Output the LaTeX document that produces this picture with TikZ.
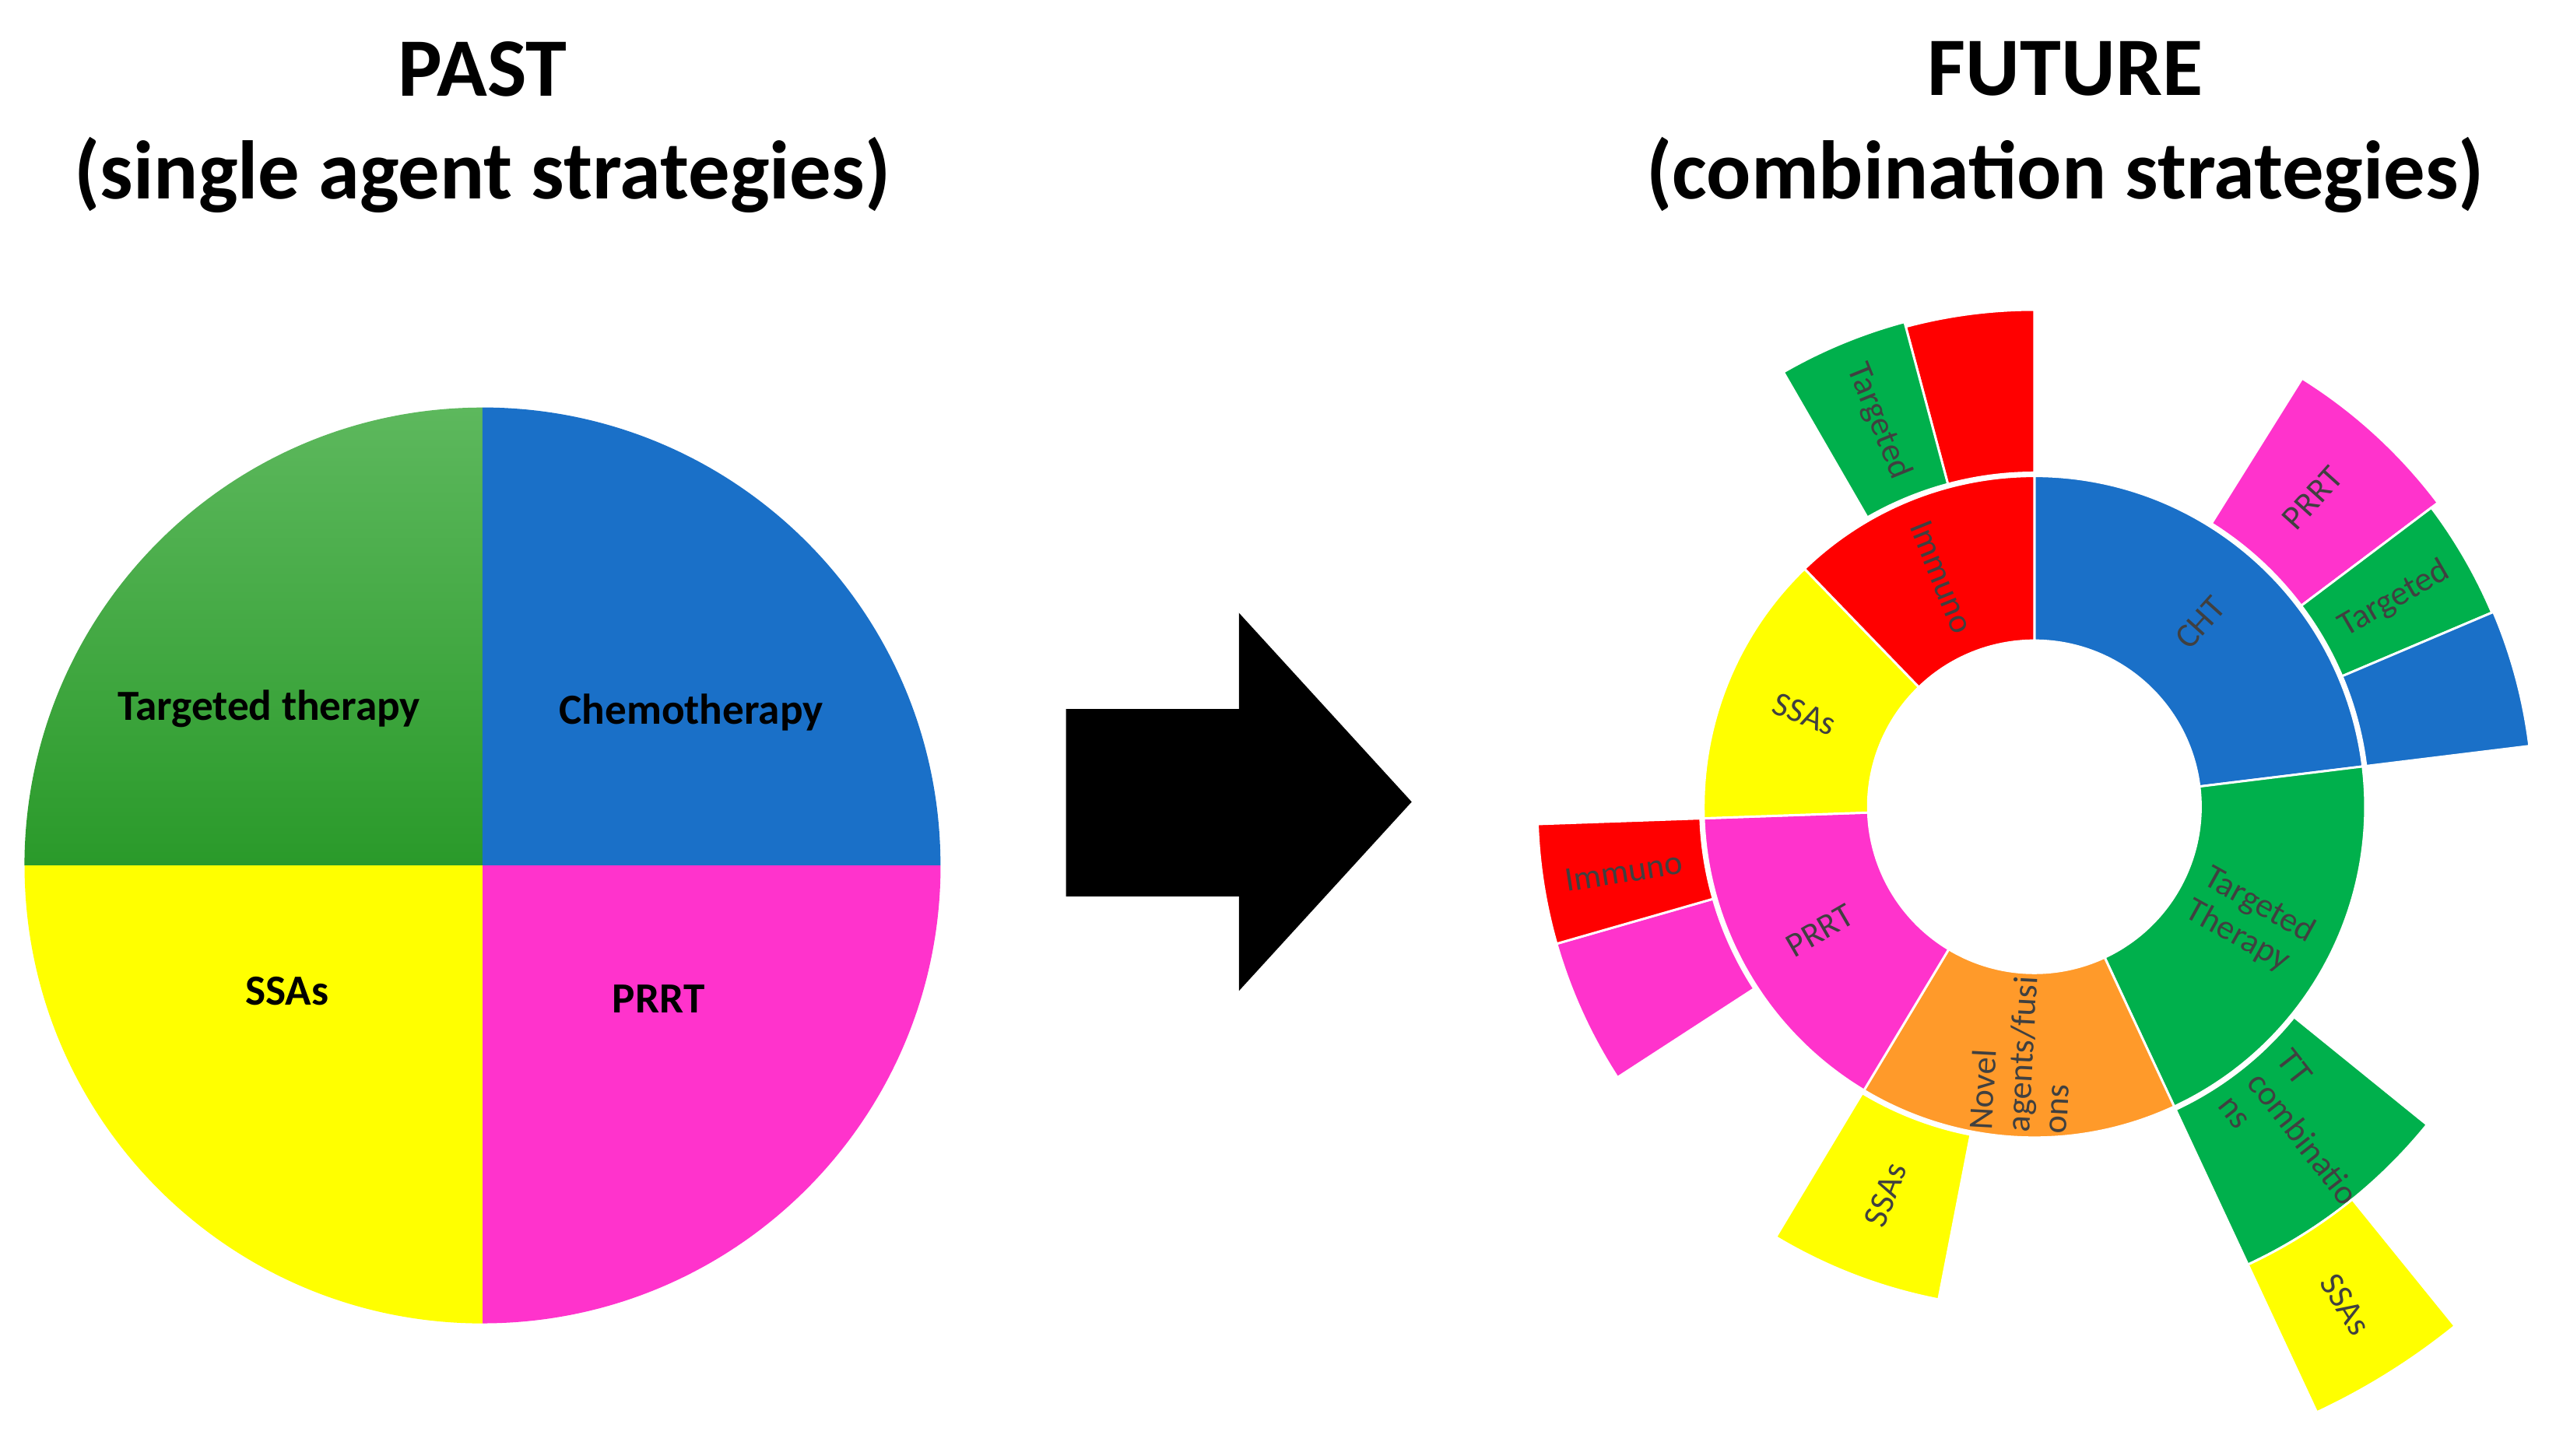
\documentclass[tikz,border=0pt]{standalone}
\usepackage{fontspec}
\setmainfont{Carlito}
\usetikzlibrary{calc}
\definecolor{cblue}{HTML}{1A70C8}
\definecolor{cpink}{HTML}{FF33CC}
\definecolor{cyel}{HTML}{FFFF00}
\definecolor{cgreen}{HTML}{00B04C}
\definecolor{cred}{HTML}{FF0000}
\definecolor{corange}{HTML}{FF9A2A}
\definecolor{ctext}{HTML}{404040}
\definecolor{pgtop}{HTML}{5DB85D}
\definecolor{pgbot}{HTML}{2A9A2A}
\newcommand\mysect[5]{\fill[#5,draw=white,line width=0.8pt] (#1:#3) arc[start angle=#1,end angle=#2,radius=#3] -- (#2:#4) arc[start angle=#2,end angle=#1,radius=#4] -- cycle;}
\begin{document}
\begin{tikzpicture}[x=0.02cm,y=0.02cm,
  title/.style={font=\bfseries\fontsize{29}{36}\selectfont, align=center},
  pielab/.style={font=\bfseries\fontsize{15}{17}\selectfont},
  sl/.style={font=\fontsize{12}{13}\selectfont, text=ctext, align=left, inner sep=0pt}]
\useasboundingbox (0,0) rectangle (1568,893);
% titles
\node[title] (past) at (296,815) {PAST\\(single agent strategies)};
\node[title] (future) at (1267,815) {FUTURE\\(combination strategies)};
% pie
\begin{scope}[shift={(296,362)}]
\shade[top color=pgtop, bottom color=pgbot] (0,0) -- (-281,0) arc[start angle=180,end angle=90,radius=5.62cm] -- cycle;
\fill[cblue] (0,0) -- (0,281) arc[start angle=90,end angle=0,radius=5.62cm] -- cycle;
\fill[cpink] (0,0) -- (281,0) arc[start angle=0,end angle=-90,radius=5.62cm] -- cycle;
\fill[cyel] (0,0) -- (0,-281) arc[start angle=-90,end angle=-180,radius=5.62cm] -- cycle;
\node[pielab] (tt) at (-131,96) {Targeted therapy};
\node[pielab] (chemo) at (128,94) {Chemotherapy};
\node[pielab] (ssa) at (-120,-77) {SSAs};
\node[pielab] (prrt) at (108,-82) {PRRT};
\end{scope}
% arrow
\fill[black] (654,458) -- (760,458) -- (760,517) -- (866,401) -- (760,285) -- (760,343) -- (654,343) -- cycle;
% sunburst
\begin{scope}[shift={(1248,398)}]
\mysect{7}{90}{2.04cm}{4.06cm}{cblue}
\mysect{-65}{7}{2.04cm}{4.06cm}{cgreen}
\mysect{-121}{-65}{2.04cm}{4.06cm}{corange}
\mysect{182}{239}{2.04cm}{4.06cm}{cpink}
\mysect{134}{182}{2.04cm}{4.06cm}{cyel}
\mysect{90}{134}{2.04cm}{4.06cm}{cred}
% ring 2
\mysect{37}{58}{4.1cm}{6.2cm}{cpink}
\mysect{23}{37}{4.1cm}{6.1cm}{cgreen}
\mysect{7}{23}{4.1cm}{6.12cm}{cblue}
\mysect{-65}{-39}{4.1cm}{6.2cm}{cgreen}
\mysect{-121}{-101}{4.1cm}{6.16cm}{cyel}
\mysect{196}{213}{4.1cm}{6.1cm}{cpink}
\mysect{182}{196}{4.1cm}{6.1cm}{cred}
\mysect{90}{105}{4.1cm}{6.1cm}{cred}
\mysect{105}{120}{4.1cm}{6.16cm}{cgreen}
% ring 3
\mysect{-65}{-51}{6.2cm}{8.2cm}{cyel}
% labels
\node[sl,rotate=48] (l1) at (48:152) {CHT};
\node[sl,rotate=-29] (l2) at (-28:150) {Targeted\\Therapy};
\node[sl,rotate=87] (l3) at (-93:152) {Novel\\agents/fusi\\ons};
\node[sl,rotate=30] (l4) at (210:152) {PRRT};
\node[sl,rotate=-22] (l5) at (158:152) {SSAs};
\node[sl,rotate=-68] (l6) at (112:152) {Immuno};
\node[sl,rotate=48] (l7) at (48:255) {PRRT};
\node[sl,rotate=30] (l8) at (30:255) {Targeted};
\node[sl,rotate=-52] (l9) at (-51:262) {TT\\combinatio\\ns};
\node[sl,rotate=69] (l10) at (249:255) {SSAs};
\node[sl,rotate=9] (l11) at (189:255) {Immuno};
\node[sl,rotate=-68] (l12) at (112:255) {Targeted};
\node[sl,rotate=-58] (l13) at (-58:360) {SSAs};
\end{scope}
\end{tikzpicture}
\end{document}
